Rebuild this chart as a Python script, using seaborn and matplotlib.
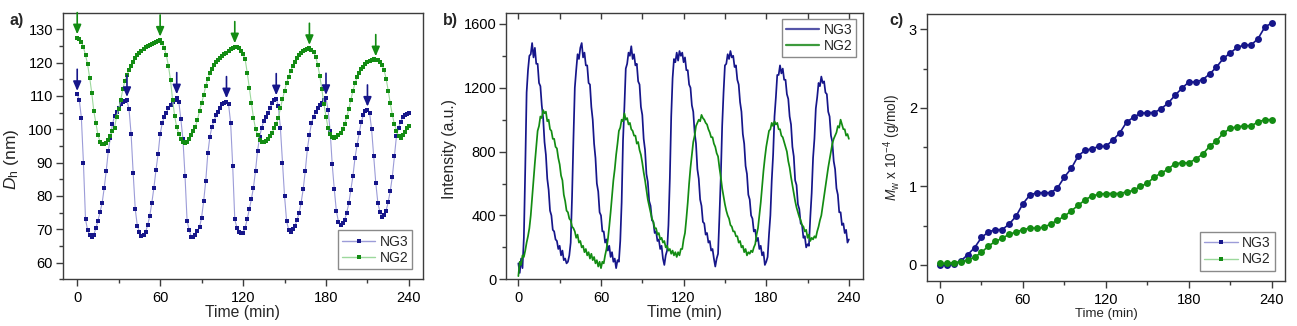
import numpy as np
import matplotlib
matplotlib.use("Agg")
import matplotlib.pyplot as plt
import seaborn as sns
from matplotlib.ticker import MultipleLocator
from matplotlib.lines import Line2D

# ---------------- data ----------------
# (a) hydrodynamic diameter, sampled every 1.5 min
dh_step = 1.5
dh_ng3 = [
    110.5, 108.8, 103.5, 90, 73, 69.8, 68.2, 67.8, 68.4, 70.3, 72.5, 75.2, 77.8, 82.3, 87.5, 93.5,
    97.5, 101.5, 104, 105.3, 106.5, 107.5, 108.2, 108.6, 108.7,
    106, 98.5, 86.8, 76, 71, 69.3, 68, 68.3, 69.2, 71.3, 74, 78, 82.5, 87.8, 92.5, 98.5,
    101.8, 103.8, 105, 106.3, 107.3, 108.2, 108.9, 109.5,
    108.3, 103, 97, 86, 72.5, 69.8, 67.8, 67.6, 68.3, 69.5, 70.6, 73.5, 78.5, 84.5, 92.8, 97.8,
    100.8, 102.5, 104.2, 105.3, 106.5, 107.5, 108, 108.3,
    107.5, 102, 89, 73, 70.5, 69.2, 68.8, 69, 70.5, 73, 76, 79, 82.5, 87.5, 93.5, 97.8,
    100.5, 102.5, 103.8, 104.8, 106.3, 107.8, 108.8, 109.2,
    107, 100.5, 90, 80, 72.5, 69.8, 69.3, 70, 71, 72.8, 74.8, 78, 82, 87.5, 94, 98.3,
    101.8, 103.8, 105.2, 106.5, 107.3, 108, 108.8, 109.3,
    105.8, 99.5, 89.5, 82, 75.5, 72.3, 71.2, 71.8, 72.8, 75, 77.8, 81.8, 86, 91.5, 95.3,
    98.8, 102.2, 104.2, 105.5, 105.8,
    105, 100, 92, 84, 78, 75.2, 73.8, 74.3, 75.6, 78.2, 81.5, 85.8, 92, 98, 100.5,
    102.2, 103.6, 104.2, 104.6, 104.8,
]
dh_ng2 = [
    127.5, 127.2, 126.3, 124.6, 122.3, 119.5, 115.5, 111, 105.5, 101.8,
    98.3, 96.3, 95.6, 95.6, 96, 96.9, 98, 99.4, 100.5, 103.8,
    106.2, 108.8, 112, 114.5, 116.3, 117.8, 119, 120.3, 121.4, 122.3,
    123, 123.6, 124.2, 124.6, 125, 125.3, 125.6, 125.9, 126.2, 126.5, 126.8,
    126, 124.3, 122.2, 119, 114.8, 108.8, 104, 100.6, 98.6, 97.2,
    96.3, 96, 96.3, 97, 98.2, 99.5, 100.8, 102.8, 105.5, 107.8,
    110.3, 113, 115, 116.8, 118.2, 119.3, 120.2, 120.8, 121.3, 121.9,
    122.5, 123, 123.5, 124.1, 124.5, 124.8,
    124.7, 124.4, 123.6, 122.5, 121, 117, 112.5, 108, 103.5, 100.2,
    98.2, 96.9, 96.3, 96.1, 96.4, 97.1, 97.9, 99, 100.3, 101.6,
    103.5, 106.3, 109, 111.5, 113.9, 115.8, 117.6, 119.1, 120.2, 121.3,
    122.4, 123, 123.5, 123.9, 124.2, 124.3,
    123.9, 123.2, 121.8, 119.4, 116, 112, 107.5, 103.8, 100.3, 98.6,
    97.8, 97.5, 97.7, 98.2, 98.9, 100, 101.5, 103.8, 106, 108.8,
    111.6, 113.8, 115.6, 117, 118, 118.8, 119.5, 120.1, 120.5, 120.8,
    121, 120.9,
    120.7, 120.2, 119.3, 117.8, 115.2, 111.6, 107.8, 104.3, 101.5, 99.6,
    97.9, 97.3, 98.2, 99.3, 100.3, 101,
]
dh_time = np.arange(len(dh_ng3)) * dh_step

# times of the oscillation maxima marked with arrows
peaks_ng3 = [0, 36, 72, 108, 144, 180, 210]
peaks_ng2 = [0, 60, 114, 168, 216]

# (b) scattered light intensity, one reading per minute
int_ng3 = [
    100, 40, 130, 70, 260, 690, 1170, 1310, 1400, 1410,
    1480, 1390, 1450, 1350, 1350, 1230, 1210, 1090, 1010, 860,
    780, 630, 560, 430, 400, 310, 300, 250, 240, 190,
    210, 150, 180, 120, 130, 100, 110, 150, 230, 520,
    880, 1200, 1310, 1410, 1380, 1450, 1480, 1390, 1420, 1340,
    1340, 1230, 1220, 1080, 1000, 850, 760, 600, 550, 420,
    400, 300, 300, 230, 250, 180, 210, 140, 170, 110,
    130, 70, 120, 110, 240, 480, 870, 1080, 1320, 1350,
    1420, 1400, 1460, 1380, 1410, 1340, 1350, 1240, 1220, 1080,
    1030, 880, 810, 660, 610, 490, 460, 370, 360, 290,
    300, 240, 250, 190, 210, 130, 90, 150, 180, 340,
    630, 1020, 1260, 1380, 1360, 1420, 1370, 1430, 1400, 1420,
    1360, 1390, 1310, 1310, 1220, 1200, 1090, 1050, 920, 850,
    690, 630, 500, 460, 360, 350, 280, 290, 230, 240,
    180, 190, 130, 80, 130, 160, 390, 640, 960, 1170,
    1340, 1350, 1410, 1380, 1430, 1390, 1400, 1330, 1340, 1250,
    1220, 1110, 1050, 910, 850, 710, 660, 530, 500, 400,
    380, 300, 310, 240, 260, 190, 210, 150, 170, 90,
    110, 140, 280, 400, 620, 780, 1020, 1140, 1280, 1280,
    1340, 1290, 1320, 1250, 1250, 1160, 1130, 1020, 970, 830,
    770, 620, 590, 470, 440, 350, 340, 260, 270, 200,
    220, 210, 390, 540, 760, 880, 1070, 1140, 1230, 1210,
    1270, 1230, 1240, 1170, 1160, 1050, 1020, 900, 860, 740,
    690, 570, 530, 420, 420, 340, 350, 290, 310, 230,
    250,
]
int_ng2 = [
    20, 110, 90, 150, 140, 180, 230, 270, 320, 400,
    510, 620, 730, 830, 930, 960, 1020, 1010, 1060, 1040,
    1050, 990, 1000, 940, 930, 880, 880, 830, 820, 760,
    720, 650, 620, 530, 490, 430, 420, 380, 370, 330,
    320, 300, 260, 280, 230, 240, 200, 210, 170, 190,
    150, 170, 130, 160, 120, 140, 100, 120, 80, 110,
    70, 110, 100, 150, 190, 250, 330, 420, 520, 620,
    690, 780, 850, 930, 950, 1000, 990, 1040, 1000, 1010,
    970, 980, 940, 930, 900, 900, 850, 860, 810, 780,
    730, 670, 620, 560, 500, 460, 420, 380, 360, 320,
    320, 280, 290, 250, 260, 230, 240, 200, 210, 180,
    190, 160, 180, 150, 170, 140, 170, 150, 190, 190,
    250, 290, 380, 480, 600, 700, 780, 860, 900, 960,
    980, 1000, 990, 1030, 1010, 1000, 980, 970, 940, 920,
    890, 890, 850, 830, 790, 770, 700, 640, 570, 520,
    470, 430, 400, 380, 340, 330, 300, 300, 270, 270,
    230, 240, 200, 210, 170, 190, 150, 170, 160, 180,
    170, 200, 220, 280, 320, 400, 480, 580, 680, 760,
    830, 880, 930, 940, 980, 960, 990, 970, 980, 940,
    940, 900, 890, 860, 830, 800, 740, 700, 640, 590,
    540, 490, 450, 420, 390, 370, 340, 330, 300, 310,
    260, 280, 240, 260, 250, 270, 260, 300, 330, 370,
    400, 460, 520, 580, 640, 700, 750, 800, 850, 880,
    900, 920, 960, 950, 1000, 970, 940, 940, 900, 910,
    880,
]
int_time = np.arange(len(int_ng3))

# (c) weight-average molar mass, every 5 min
mw_time = np.arange(0, 241, 5)
mw_ng3 = [
    0.0, 0.0, 0.01, 0.05, 0.13, 0.22, 0.35, 0.42, 0.45, 0.45,
    0.52, 0.62, 0.78, 0.89, 0.92, 0.92, 0.92, 0.98, 1.12, 1.23,
    1.39, 1.46, 1.48, 1.51, 1.51, 1.59, 1.68, 1.82, 1.88, 1.93,
    1.94, 1.94, 1.99, 2.06, 2.16, 2.25, 2.33, 2.33, 2.36, 2.43,
    2.52, 2.63, 2.70, 2.77, 2.80, 2.80, 2.88, 3.03, 3.08,
]
mw_ng2 = [
    0.02, 0.02, 0.03, 0.04, 0.06, 0.10, 0.16, 0.24, 0.30, 0.34,
    0.39, 0.42, 0.45, 0.47, 0.47, 0.48, 0.52, 0.57, 0.62, 0.69,
    0.76, 0.83, 0.88, 0.90, 0.91, 0.91, 0.91, 0.93, 0.95, 1.00,
    1.04, 1.12, 1.17, 1.22, 1.29, 1.30, 1.30, 1.35, 1.41, 1.51,
    1.58, 1.68, 1.74, 1.76, 1.77, 1.77, 1.82, 1.85, 1.85,
]

labels = ["NG3", "NG2"]

# ---------------- style ----------------
NAVY = "#16168a"
GREEN = "#138c13"
NAVY_LIGHT = "#9c9cd8"
GREEN_LIGHT = "#9cd89c"
FRAME = "#3c3c3c"

sns.set_style("ticks")
plt.rcParams["font.family"] = ["Liberation Sans", "DejaVu Sans"]
plt.rcParams["mathtext.fontset"] = "custom"
plt.rcParams["mathtext.rm"] = "Liberation Sans"
plt.rcParams["mathtext.it"] = "Liberation Sans:italic"
plt.rcParams["axes.unicode_minus"] = True

fig = plt.figure(figsize=(12.97, 3.26), dpi=100)
ax_a = fig.add_axes([0.04834, 0.1433, 0.2776, 0.8160])
ax_b = fig.add_axes([0.3901, 0.1432, 0.2750, 0.8178])
ax_c = fig.add_axes([0.7145, 0.1380, 0.2763, 0.8190])


def frame(ax, ymajor, yminor):
    ax.xaxis.set_major_locator(MultipleLocator(60))
    ax.xaxis.set_minor_locator(MultipleLocator(30))
    ax.yaxis.set_major_locator(MultipleLocator(ymajor))
    ax.yaxis.set_minor_locator(MultipleLocator(yminor))
    ax.tick_params(which="both", direction="out", top=False, right=False,
                   color=FRAME, width=1.0, labelsize=10.5, labelcolor="black")
    ax.tick_params(which="major", length=5)
    ax.tick_params(which="minor", length=3)
    ax.tick_params(axis="y", pad=2)
    ax.tick_params(axis="x", pad=3.5)
    for s in ax.spines.values():
        s.set_visible(True)
        s.set_linewidth(1.0)
        s.set_color(FRAME)
    ax.grid(False)


def marker_handle(col, light):
    return Line2D([], [], color=light, lw=1.0, marker="s", markersize=2.8,
                  markerfacecolor=col, markeredgecolor=col, markeredgewidth=0)


legend_kw = dict(frameon=True, fancybox=False, framealpha=1, edgecolor="#8a8a8a",
                 fontsize=10, borderpad=0.3, labelspacing=0.15, handlelength=2.4,
                 handletextpad=0.3)

# ---------------- (a) ----------------
ax = ax_a
sns.lineplot(x=dh_time, y=dh_ng3, ax=ax, color=NAVY_LIGHT, lw=0.8, marker="s",
             markersize=2.6, markerfacecolor=NAVY, markeredgecolor=NAVY,
             markeredgewidth=0, estimator=None, sort=False, legend=False)
sns.lineplot(x=dh_time, y=dh_ng2, ax=ax, color=GREEN_LIGHT, lw=0.8, marker="s",
             markersize=2.6, markerfacecolor=GREEN, markeredgecolor=GREEN,
             markeredgewidth=0, estimator=None, sort=False, legend=False)
for series, times, col in ((dh_ng3, peaks_ng3, NAVY), (dh_ng2, peaks_ng2, GREEN)):
    for t in times:
        v = np.interp(t, dh_time, series)
        ax.annotate("", xy=(t, v + 1.0), xytext=(t, v + 7.5),
                    arrowprops=dict(arrowstyle="-|>,head_length=0.7,head_width=0.3",
                                    color=col, lw=1.2, shrinkA=0, shrinkB=0,
                                    mutation_scale=8))
ax.set_xlim(-10.5, 250)
ax.set_ylim(55, 134.8)
frame(ax, 10, 5)
ax.set_xlabel("Time (min)", fontsize=11.3)
ax.set_ylabel("$D$$_\\mathrm{h}$ (nm)", fontsize=12.5)
ax.xaxis.set_label_coords(0.5, -0.097)
ax.yaxis.set_label_coords(-0.117, 0.45)
ax.legend([marker_handle(NAVY, NAVY_LIGHT), marker_handle(GREEN, GREEN_LIGHT)], labels,
          loc="lower right", borderaxespad=0.75, **legend_kw)

# ---------------- (b) ----------------
ax = ax_b
sns.lineplot(x=int_time, y=int_ng3, ax=ax, color=NAVY, lw=1.25,
             estimator=None, sort=False, legend=False)
sns.lineplot(x=int_time, y=int_ng2, ax=ax, color=GREEN, lw=1.25,
             estimator=None, sort=False, legend=False)
ax.set_xlim(-9, 250)
ax.set_ylim(0, 1670)
frame(ax, 400, 200)
top = ax.secondary_xaxis("top")
top.xaxis.set_major_locator(MultipleLocator(60))
top.xaxis.set_minor_locator(MultipleLocator(30))
top.tick_params(which="both", direction="in", length=4, width=1.0, color=FRAME,
                labeltop=False)
top.spines["top"].set_visible(False)
ax.set_xlabel("Time (min)", fontsize=11.3)
ax.set_ylabel("Intensity (a.u.)", fontsize=11.3)
ax.xaxis.set_label_coords(0.5, -0.097)
ax.yaxis.set_label_coords(-0.137, 0.487)
ax.legend([Line2D([], [], color="#5555a8", lw=1.6), Line2D([], [], color="#3c9a3c", lw=1.6)],
          labels, loc="upper right", borderaxespad=0.45, **legend_kw)

# ---------------- (c) ----------------
ax = ax_c
sns.lineplot(x=mw_time, y=mw_ng3, ax=ax, color=NAVY, lw=1.2, marker="o",
             markersize=5, markerfacecolor=NAVY, markeredgecolor=NAVY,
             markeredgewidth=0, estimator=None, sort=False, legend=False)
sns.lineplot(x=mw_time, y=mw_ng2, ax=ax, color=GREEN, lw=1.2, marker="o",
             markersize=5, markerfacecolor=GREEN, markeredgecolor=GREEN,
             markeredgewidth=0, estimator=None, sort=False, legend=False)
ax.set_xlim(-9.6, 249.6)
ax.set_ylim(-0.204, 3.195)
frame(ax, 1, 0.5)
ax.set_xlabel("Time (min)", fontsize=9.5)
ax.set_ylabel("$M$$_\\mathrm{w}$ x 10$^{-4}$ (g/mol)", fontsize=9.8)
ax.xaxis.set_label_coords(0.5, -0.101)
ax.yaxis.set_label_coords(-0.066, 0.5)
ax.legend([marker_handle(NAVY, NAVY_LIGHT), marker_handle(GREEN, GREEN_LIGHT)], labels,
          loc="lower right", borderaxespad=0.75, **legend_kw)

# panel letters
for x, letter in ((10, "a)"), (443, "b)"), (889, "c)")):
    fig.text(x / 1297, 1 - 21 / 326, letter, fontsize=11.5, fontweight="bold",
             ha="left", va="center")

fig.savefig("out.png", dpi=100)
